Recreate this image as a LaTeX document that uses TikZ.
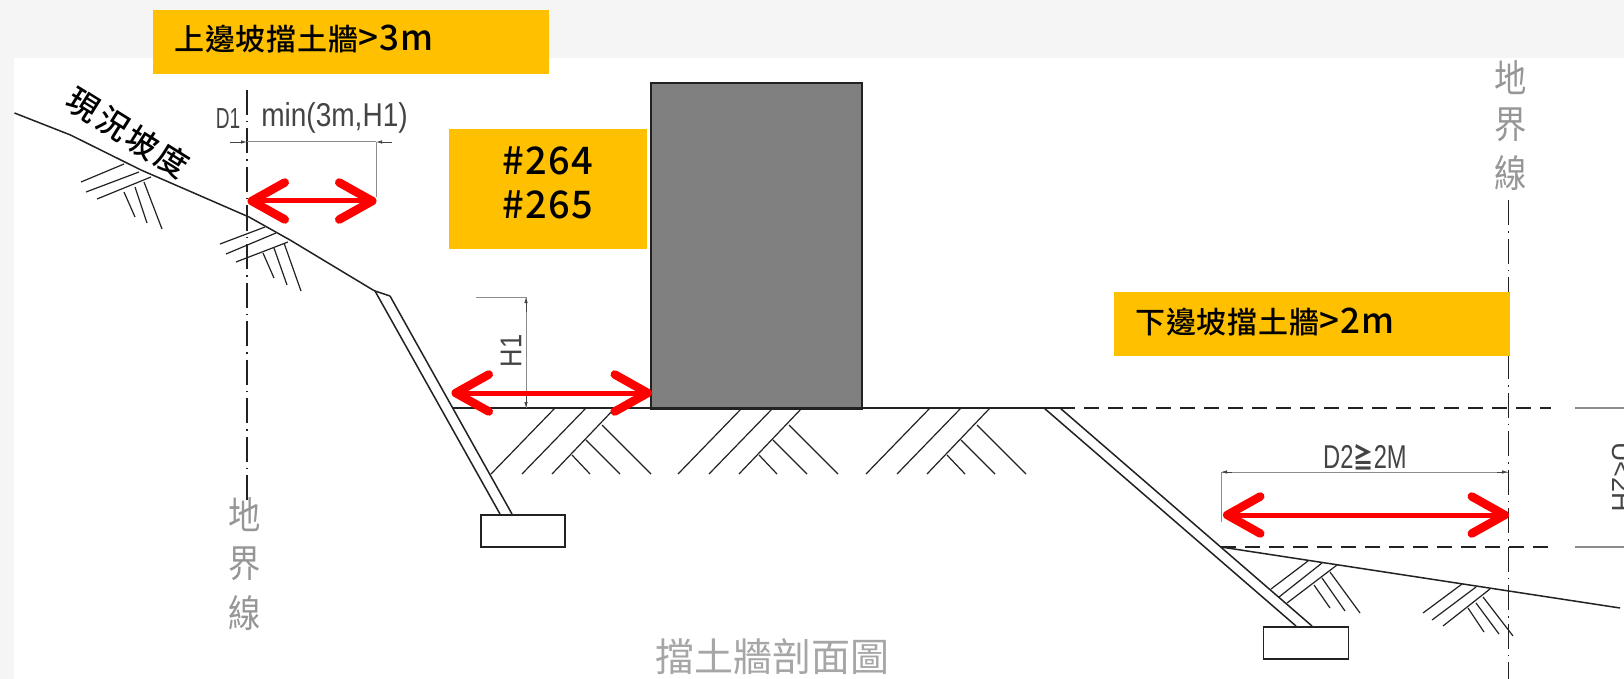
\documentclass[tikz,border=0pt]{standalone}
\usepackage{graphicx}
\usepackage{fontspec}
\setmainfont{Liberation Sans}
\newfontfamily\cjk{Noto Sans CJK TC}
\newfontfamily\cjkm[LetterSpace=3]{Noto Sans CJK TC Medium}
\newfontfamily\cjkk[LetterSpace=10]{Noto Sans CJK TC Medium}
\usetikzlibrary{arrows.meta}
\definecolor{pagegrey}{HTML}{F5F5F5}
\definecolor{amber}{HTML}{FFC000}
\definecolor{ink}{HTML}{222222}
\definecolor{dimgrey}{HTML}{8C8C8C}
\definecolor{labelgrey}{HTML}{969696}
\definecolor{txtdark}{HTML}{444444}
\newcommand{\fs}[1]{\fontsize{#1}{#1}\selectfont}
\tikzset{
  cad/.style={draw=ink,line width=1.5pt},
  cadthin/.style={draw=ink,line width=1.2pt},
  dimline/.style={draw=dimgrey,line width=1pt},
  dimtip/.style={draw=txtdark,line width=.8pt,-{Latex[length=6pt,width=3.5pt]}},
  propline/.style={draw=ink,line width=1.4pt,dash pattern=on 25pt off 6pt on 1.5pt off 6pt},
  gnddash/.style={draw=ink,line width=1.6pt,dash pattern=on 15pt off 9pt},
  faintline/.style={draw=dimgrey,line width=1.1pt},
  tag/.style={fill=amber,draw=none,inner sep=0pt,rectangle},
  redarrow/.style={draw=red,line width=5pt,
     {Straight Barb[length=33pt,width=37pt,line width=8.5pt,round]}-{Straight Barb[length=33pt,width=37pt,line width=8.5pt,round]}},
  tagtext/.style={inner sep=0pt,anchor=base west,text=black},
  greylabel/.style={inner sep=0pt,text=labelgrey},
  dimtext/.style={inner sep=0pt,text=txtdark},
}
\begin{document}
\begin{tikzpicture}[x=1pt,y=-1pt]
\useasboundingbox (0,0) rectangle (1624,679);
\fill[pagegrey] (0,0) rectangle (1624,679);
\fill[white] (14,58) rectangle (1624,679);

% building
\node[draw=ink,line width=1.6pt,fill=gray,minimum width=211pt,minimum height=326pt,inner sep=0pt,anchor=north west] (bldg) at (650,82) {};

% ground
\coordinate (g0) at (453,408);
\coordinate (g1) at (1060,408);
\coordinate (g2) at (1551,408);
\coordinate (g3) at (1575,408);
\coordinate (g4) at (1624,408);
\draw[cad] (g0) -- (g1);
\draw[gnddash] (g1) -- (g2);
\draw[faintline] (g3) -- (g4);
\coordinate (l1) at (1221,547);
\coordinate (l2) at (1551,547);
\coordinate (l3) at (1575,547);
\coordinate (l4) at (1624,547);
\draw[gnddash] (l1) -- (l2);
\draw[faintline] (l3) -- (l4);

% upper terrain
\draw[cad] (14.5,113) -- (70.5,135) -- (141,170) -- (249,217) -- (290,240) -- (373,290) -- (375,291) -- (390,296);
% upper wall
\draw[cad] (375,291) -- (500,514);
\draw[cad] (390,296) -- (512,514);
\node[draw=ink,line width=1.5pt,fill=white,minimum width=84pt,minimum height=32pt,inner sep=0pt,anchor=north west] (foot1) at (480,514) {};

% lower wall + terrain
\draw[cad] (1044,408) -- (1296,626);
\draw[cad] (1060,408) -- (1312,626);
\node[draw=ink,line width=1.5pt,fill=white,minimum width=85pt,minimum height=32pt,inner sep=0pt,anchor=north west] (foot2) at (1262.5,626) {};
\draw[cad] (l1) -- (1620,608);

% soil hatches
\foreach \a/\b/\c/\d in {
  124/164/81/182, 139/172/86/192, 151/177/97/199,
  124/192/135/217, 135/187/147/223, 144/182/162/229,
  265/227/220/244, 276/233/226/254, 288/242/236/262,
  263/253/274/278, 274/248/287/285, 284/243/301/291,
  1308/561/1271/589, 1322/563/1279/597, 1337/565/1287/603,
  1314/585/1330/608, 1322/578/1345/611, 1330/572/1360/613,
  1462/584/1423/613, 1476/587/1432/620, 1490/589/1443/626,
  1468/608/1484/632, 1476/603/1499/634, 1483/597/1513/636}
  {\draw[cadthin] (\a,\b) -- (\c,\d);}
\foreach \o in {0,187,375}{
  \foreach \a/\b/\c/\d in {
    555/408/491/474, 586/408/522/474, 615/408/552/474,
    602/425/651/474, 586/440/620/474, 572/455/590/474}
    {\draw[cadthin] (\a+\o,\b) -- (\c+\o,\d);}
}

% property lines
\coordinate (pl1) at (247,90);
\coordinate (pl2) at (247,503);
\draw[propline] (pl1) -- (pl2);
\coordinate (pr1) at (1508.5,200);
\coordinate (pr2) at (1508.5,679);
\draw[propline] (pr1) -- (pr2);

% dimension: top
\coordinate (d1a) at (230,142);
\coordinate (d1b) at (247,142);
\coordinate (d1c) at (376,142);
\coordinate (d1d) at (392,142);
\coordinate (d1e) at (376,197);
\draw[dimline] (d1b) -- (d1c);
\draw[dimtip] (d1a) -- (d1b);
\draw[dimtip] (d1d) -- (d1c);
\draw[dimline] (d1c) -- (d1e);
% dimension: H1
\coordinate (h1a) at (476,297);
\coordinate (h1b) at (526,297);
\coordinate (h1c) at (526,408);
\draw[dimline] (h1a) -- (h1b) -- (h1c);
\draw[dimtip] (526,312) -- (h1b);
\draw[dimtip] (526,394) -- (h1c);
% dimension: D2
\coordinate (d2a) at (1221,472);
\coordinate (d2b) at (1508,472);
\coordinate (d2c) at (1221,522);
\draw[dimline] (d2c) -- (d2a) -- (d2b);
\draw[dimtip] (1232,472) -- (d2a);
\draw[dimtip] (1497,472) -- (d2b);

% labels in the drawing
\node[dimtext] (td1) at (228,119) {\fs{29}\scalebox{.66}[1]{D1}};
\node[dimtext] (tmin) at (334.5,118) {\fs{33}\scalebox{.85}[1]{min(3m,H1)}};
\node[dimtext,rotate=90] (th1) at (511,351) {\fs{30}\scalebox{.85}[1]{H1}};
\node[dimtext] (td2) at (1365,457) {\fs{33}\scalebox{.72}[1]{D2{\cjk\bfseries\fs{28}≧}2M}};
\node[dimtext,rotate=-90,anchor=base] (tu) at (1612,477) {\fs{27}U<2H};
\node[inner sep=0pt,rotate=-32,text=black] (tslope) at (128,133) {\cjkk\fs{32}現況坡度};
\node[greylabel] (pl3) at (245,515) {\cjk\fs{38}\scalebox{.85}[1]{地}};
\node[greylabel] (pl4) at (245,564) {\cjk\fs{38}\scalebox{.85}[1]{界}};
\node[greylabel] (pl5) at (245,613) {\cjk\fs{38}\scalebox{.85}[1]{線}};
\node[greylabel] (pr3) at (1511,78) {\cjk\fs{38}\scalebox{.85}[1]{地}};
\node[greylabel] (pr4) at (1511,125) {\cjk\fs{38}\scalebox{.85}[1]{界}};
\node[greylabel] (pr5) at (1511,173) {\cjk\fs{38}\scalebox{.85}[1]{線}};
\node[greylabel,text=labelgrey!85] (title) at (772,657) {\cjk\fs{39}擋土牆剖面圖};

% amber tags
\node[tag,minimum width=396pt,minimum height=64pt,anchor=north west] (t1) at (153,10) {};
\node[tagtext] (t1t) at (174,51) {\cjkm\fs{30}上邊坡擋土牆{\fs{35}>3m}};
\node[tag,minimum width=198pt,minimum height=120pt,anchor=north west] (t2) at (449,129) {};
\node[inner sep=0pt,text=black] (t2a) at (548,161) {\cjkm\fs{38}\#264};
\node[inner sep=0pt,text=black] (t2b) at (548,205) {\cjkm\fs{38}\#265};
\node[tag,minimum width=396pt,minimum height=64pt,anchor=north west] (t3) at (1114,292) {};
\node[tagtext] (t3t) at (1135,333) {\cjkm\fs{30}下邊坡擋土牆{\fs{35}>2m}};

% red arrows
\coordinate (r1a) at (247.5,201);
\coordinate (r1b) at (376.5,201);
\coordinate (r2a) at (451.5,393);
\coordinate (r2b) at (652,393);
\coordinate (r3a) at (1223,515);
\coordinate (r3b) at (1509,515);
\draw[redarrow] (r1a) -- (r1b);
\draw[redarrow] (r2a) -- (r2b);
\draw[redarrow] (r3a) -- (r3b);
\end{tikzpicture}
\end{document}
